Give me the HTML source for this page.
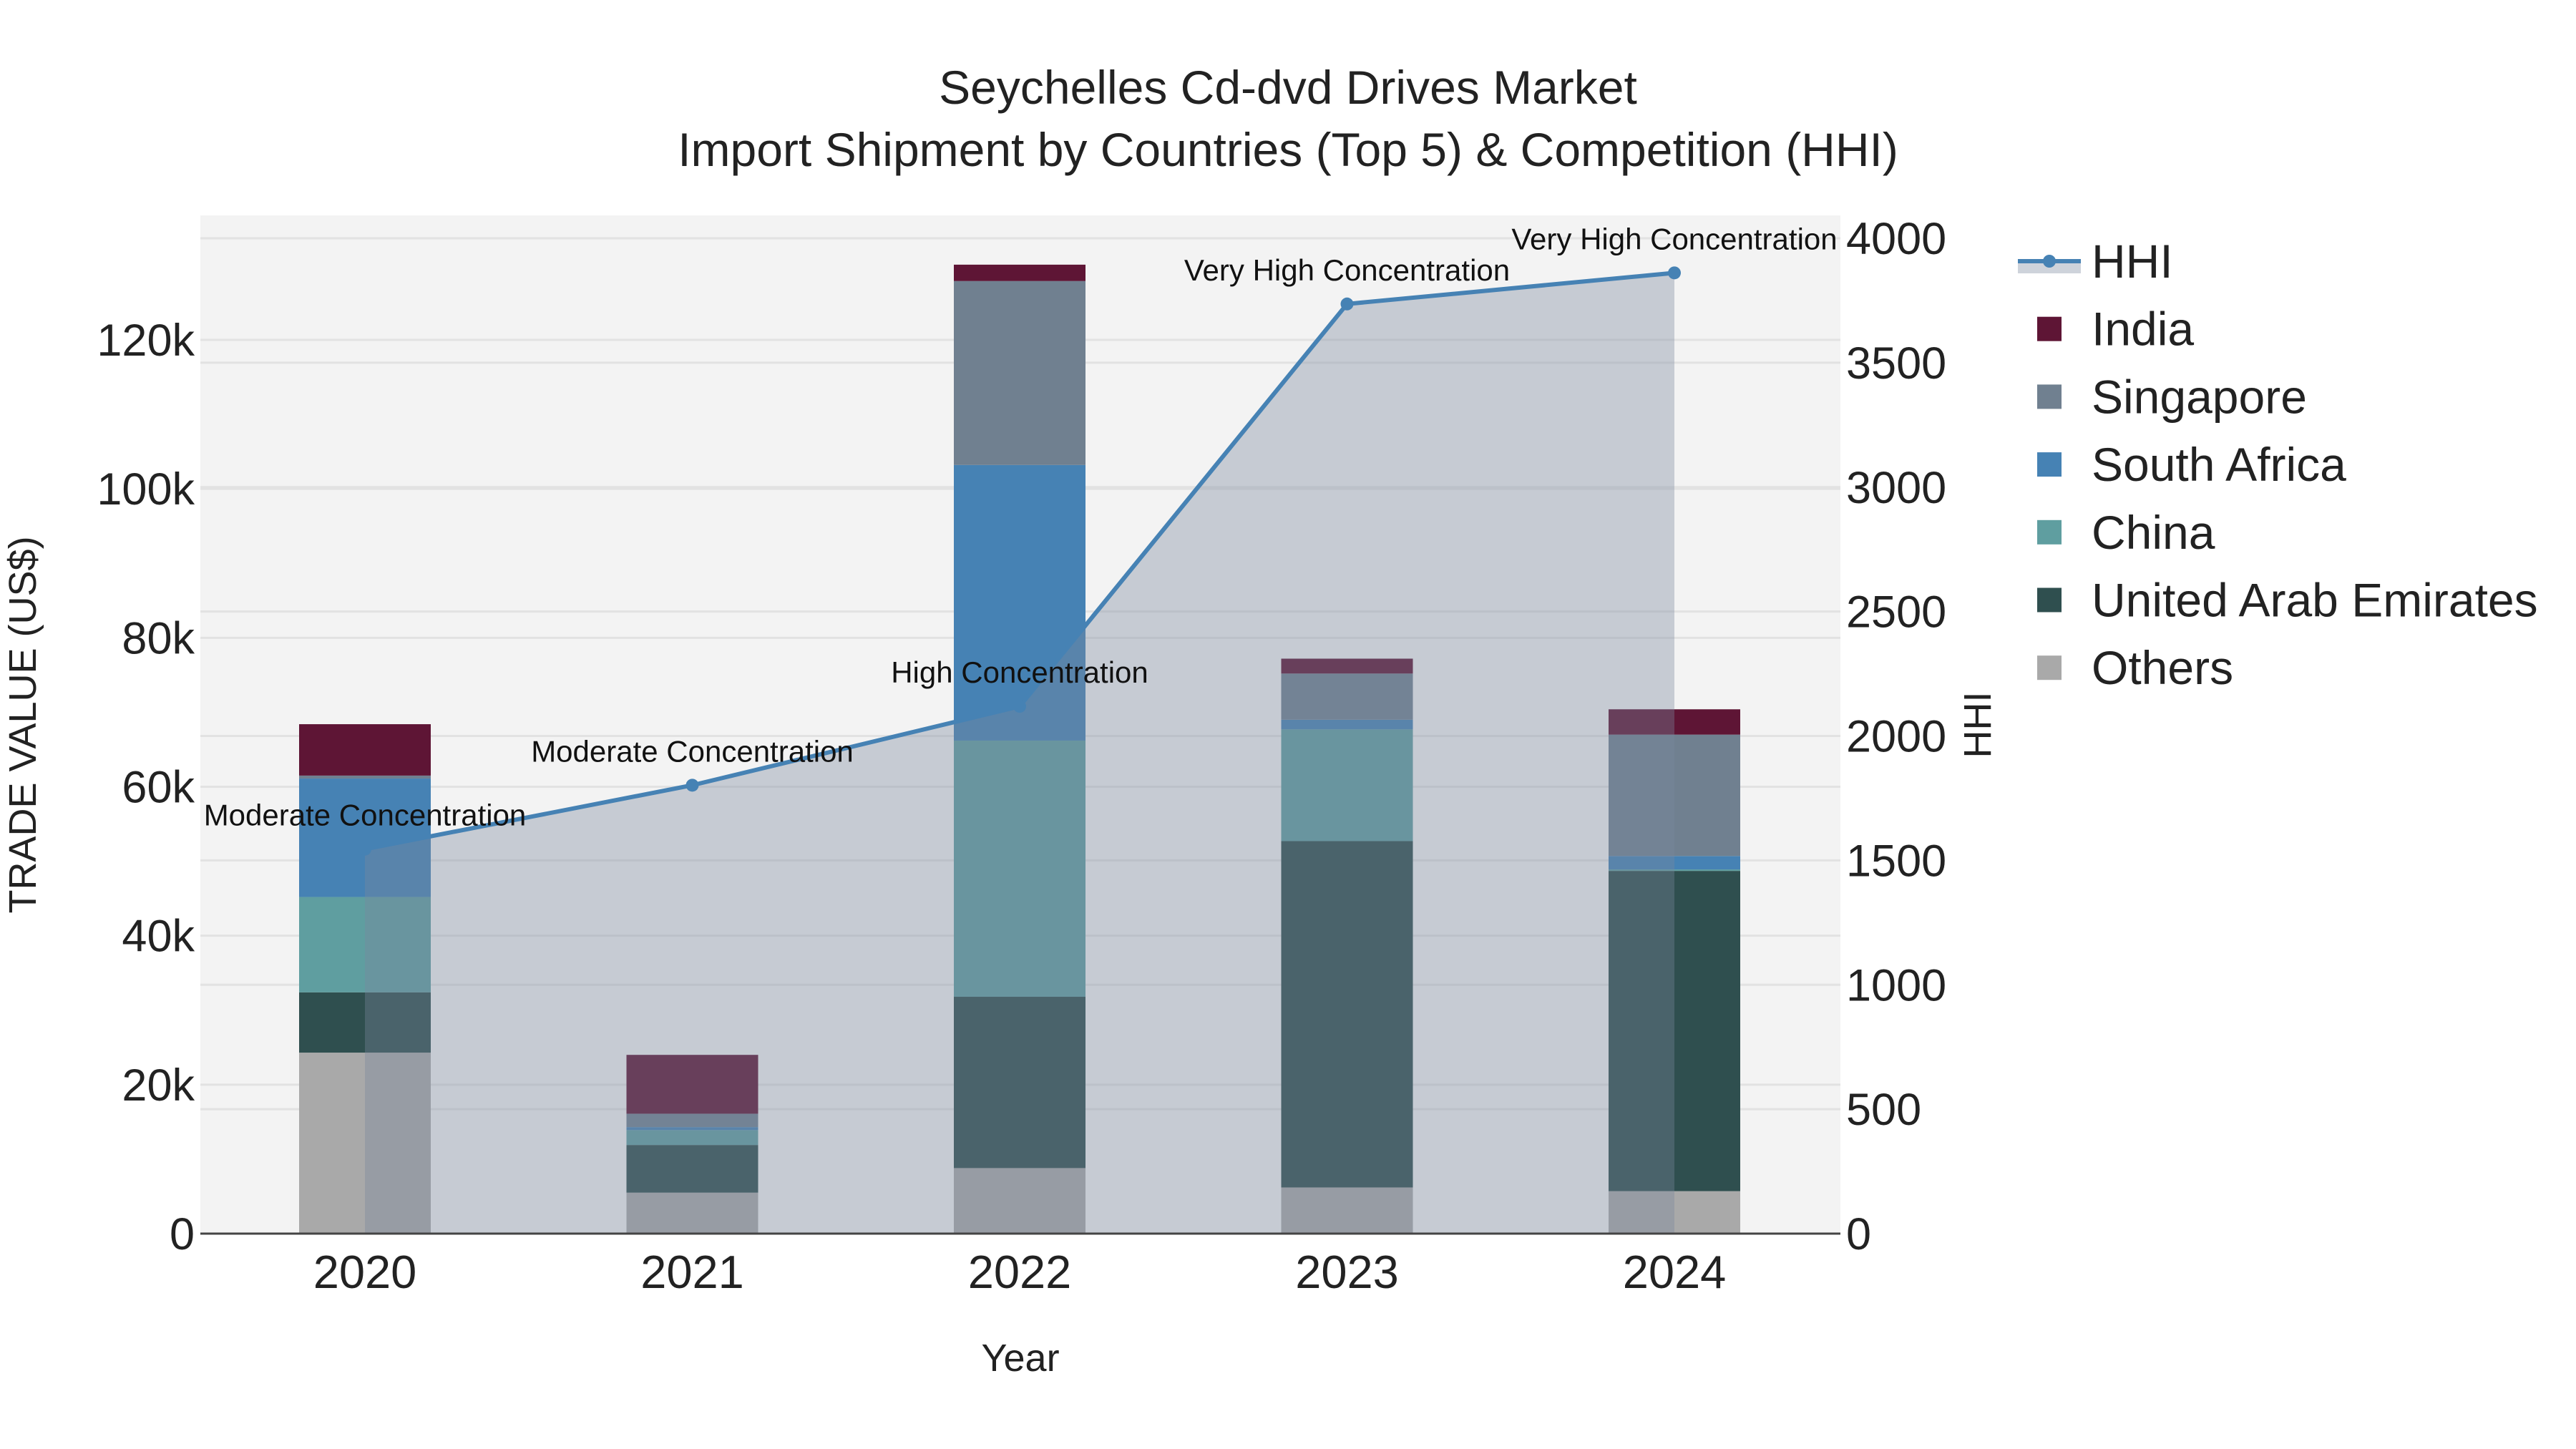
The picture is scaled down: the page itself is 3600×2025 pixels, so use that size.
<!DOCTYPE html>
<html><head><meta charset="utf-8"><style>
html,body{margin:0;padding:0;background:#fff;}
svg{display:block;font-family:"Liberation Sans",Arial,sans-serif;}
</style></head><body>
<svg id="chart" width="3600" height="2025" viewBox="0 0 3600 2025" xmlns="http://www.w3.org/2000/svg">
<rect x="0" y="0" width="3600" height="2025" fill="#ffffff"/>
<rect x="280" y="301" width="2292" height="1423" fill="#f3f3f3"/>
<g id="grid"></g>
<g id="bars"></g>
<g id="hhi"></g>
<line x1="280" y1="1724" x2="2572" y2="1724" stroke="#444" stroke-width="3"/>
<g id="ticks"></g>
<text x="1800" y="145" font-size="66" text-anchor="middle" fill="#222">Seychelles Cd-dvd Drives Market</text>
<text x="1800" y="232" font-size="66" text-anchor="middle" fill="#222">Import Shipment by Countries (Top 5) &amp; Competition (HHI)</text>
<text x="1426" y="1916" font-size="54" text-anchor="middle" fill="#222">Year</text>
<text transform="translate(50,1013) rotate(-90)" font-size="54" text-anchor="middle" fill="#222">TRADE VALUE (US$)</text>
<text transform="translate(2782,1013) rotate(-90)" font-size="54" text-anchor="middle" fill="#222">HHI</text>
<g id="legend"></g>
</svg>
<script>
const years = ["2020","2021","2022","2023","2024"];
const seriesNames = ["Others","United Arab Emirates","China","South Africa","Singapore","India"];
const seriesColors = ["#a9a9a9","#2f4f4f","#5f9ea0","#4682b4","#708090","#5e1535"];
const others = [24300, 5500, 8800, 6200, 5700];
const uae = [8100, 6400, 23000, 46500, 43000];
const china = [12800, 2000, 34400, 15000, 200];
const southAfrica = [15900, 400, 37000, 1300, 1800];
const singapore = [400, 1800, 24700, 6200, 16300];
const india = [6900, 7900, 2200, 2000, 3400];
const hhi = [1545, 1802, 2119, 3736, 3861];
const hhiLabels = ["Moderate Concentration","Moderate Concentration","High Concentration","Very High Concentration","Very High Concentration"];
const leftTicks = [0,20000,40000,60000,80000,100000,120000];
const leftTickLabels = ["0","20k","40k","60k","80k","100k","120k"];
const rightTicks = [0,500,1000,1500,2000,2500,3000,3500,4000];

const NS="http://www.w3.org/2000/svg";
const X0=280,X1=2572,Y0=1724;
function xPos(i){return 510+i*457.5;}
function yL(v){return Y0-v*(1249/120000);}
function yR(v){return Y0-v*(1391/4000);}
function mk(tag,attrs,parent){const e=document.createElementNS(NS,tag);for(const k in attrs)e.setAttribute(k,attrs[k]);parent.appendChild(e);return e;}
const grid=document.getElementById('grid'),bars=document.getElementById('bars'),hg=document.getElementById('hhi'),tk=document.getElementById('ticks'),lg=document.getElementById('legend');

leftTicks.forEach((t,i)=>{
  if(t>0){const l=mk('line',{x1:X0,x2:X1,y1:yL(t),y2:yL(t),stroke:'#e2e2e2','stroke-width':3},grid);
  
  }
  const tx=mk('text',{x:272,y:yL(t)+22,'font-size':63,'text-anchor':'end',fill:'#222'},tk);
  tx.textContent=leftTickLabels[i];
  
  
});
rightTicks.forEach(t=>{
  if(t>0){const l=mk('line',{x1:X0,x2:X1,y1:yR(t),y2:yR(t),stroke:'#e2e2e2','stroke-width':3},grid);
  
  }
  const tx=mk('text',{x:2580,y:yR(t)+22,'font-size':63,'text-anchor':'start',fill:'#222'},tk);
  tx.textContent=String(t);
  
  
});
years.forEach((y,i)=>{
  const tx=mk('text',{x:xPos(i),y:1800,'font-size':65,'text-anchor':'middle',fill:'#222'},tk);
  tx.textContent=y;
  
  
});

const series=[others,uae,china,southAfrica,singapore,india];
const bw=184;
years.forEach((y,i)=>{
  let acc=0;
  series.forEach((s,k)=>{
    const top=yL(acc+s[i]),bot=yL(acc);
    const r=mk('rect',{x:xPos(i)-bw/2,y:top,width:bw,height:Math.max(0,bot-top),fill:seriesColors[k]},bars);
    
    
    acc+=s[i];
  });
});

let pts=hhi.map((v,i)=>xPos(i)+','+yR(v)).join(' ');
const area=mk('polygon',{points:xPos(0)+','+Y0+' '+pts+' '+xPos(hhi.length-1)+','+Y0,fill:'rgba(122,136,158,0.37)'},hg);


const line=mk('polyline',{points:pts,fill:'none',stroke:'#4682b4','stroke-width':6},hg);


hhi.forEach((v,i)=>{
  const c=mk('circle',{cx:xPos(i),cy:yR(v),r:9,fill:'#4682b4'},hg);
  
  
  const t=mk('text',{x:xPos(i),y:yR(v)-33,'font-size':42,'text-anchor':'middle',fill:'#111'},hg);
  t.textContent=hhiLabels[i];
  
  
});

// legend
const ly0=365, ls=94.7;
const lh=mk('g',{},lg);


mk('rect',{x:2820,y:ly0+3,width:88,height:14,fill:'rgba(122,136,158,0.37)'},lh);
mk('line',{x1:2820,x2:2908,y1:ly0,y2:ly0,stroke:'#4682b4','stroke-width':6},lh);
mk('circle',{cx:2864,cy:ly0,r:9,fill:'#4682b4'},lh);
const hlt=mk('text',{x:2923,y:ly0+23,'font-size':66,fill:'#222'},lh);hlt.textContent='HHI';
const legOrder=[5,4,3,2,1,0];
legOrder.forEach((k,j)=>{
  const cy=ly0+ls*(j+1);
  const g=mk('g',{},lg);
  
  
  mk('rect',{x:2847,y:cy-17,width:34,height:34,fill:seriesColors[k]},g);
  const t=mk('text',{x:2923,y:cy+23,'font-size':66,fill:'#222'},g);t.textContent=seriesNames[k];
});
</script>
</body></html>
